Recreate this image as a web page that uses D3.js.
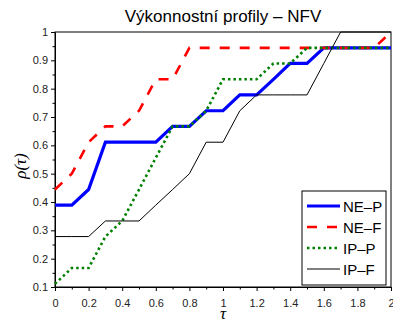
<!DOCTYPE html>
<html>
<head>
<meta charset="utf-8">
<script src="https://cdn.jsdelivr.net/npm/d3@7"></script>
<style>
  body { margin: 0; background: #fff; }
  text { font-family: "Liberation Sans", Arial, sans-serif; }
</style>
</head>
<body>
<div id="chart"></div>
<script>
// performance profiles, tau on x, share of problems on y
const tau = [0, 0.1, 0.2, 0.3, 0.4, 0.5, 0.6, 0.7, 0.8, 0.9, 1.0,
             1.1, 1.2, 1.3, 1.4, 1.5, 1.6, 1.7, 1.8, 1.9, 2.0];
const neP = [0.389, 0.389, 0.444, 0.611, 0.611, 0.611, 0.611, 0.667, 0.667, 0.722, 0.722,
             0.778, 0.778, 0.833, 0.889, 0.889, 0.944, 0.944, 0.944, 0.944, 0.944];
const neF = [0.444, 0.5, 0.611, 0.667, 0.667, 0.722, 0.833, 0.833, 0.944, 0.944, 0.944,
             0.944, 0.944, 0.944, 0.944, 0.944, 0.944, 0.944, 0.944, 0.944, 1.0];
const ipP = [0.111, 0.167, 0.167, 0.278, 0.333, 0.444, 0.556, 0.667, 0.667, 0.722, 0.833,
             0.833, 0.833, 0.889, 0.889, 0.944, 0.944, 0.944, 0.944, 0.944, 0.944];
const ipF = [0.278, 0.278, 0.278, 0.333, 0.333, 0.333, 0.389, 0.444, 0.5, 0.611, 0.611,
             0.722, 0.778, 0.778, 0.778, 0.778, 0.889, 1.0, 1.0, 1.0, 1.0];
const seriesNames = ['NE\u2013P', 'NE\u2013F', 'IP\u2013P', 'IP\u2013F'];
const xTicks = [0, 0.2, 0.4, 0.6, 0.8, 1, 1.2, 1.4, 1.6, 1.8, 2];
const yTicks = [0.1, 0.2, 0.3, 0.4, 0.5, 0.6, 0.7, 0.8, 0.9, 1];

const W = 393, H = 322;
const margin = {top: 32, right: 2, bottom: 35, left: 55};
const width = W - margin.left - margin.right;
const height = H - margin.top - margin.bottom;

const styles = [
  {color: '#0000ff', w: 3.2, dash: null},
  {color: '#ff0000', w: 2.6, dash: '10,10'},
  {color: '#008000', w: 2.6, dash: '2.5,3'},
  {color: '#000000', w: 1, dash: null}
];
const series = [neP, neF, ipP, ipF];

const svg = d3.select('#chart').append('svg')
    .attr('width', W)
    .attr('height', H);

const g = svg.append('g')
    .attr('transform', 'translate(' + margin.left + ',' + margin.top + ')');

const x = d3.scaleLinear().domain([0, 2]).range([0, width]);
const y = d3.scaleLinear().domain([0.1, 1]).range([height, 0]);

// minor ticks first, major ticks with labels on top
g.append('g')
    .attr('transform', 'translate(0,' + height + ')')
    .call(d3.axisBottom(x).tickValues(d3.range(0.1, 2, 0.2)).tickSize(2.5).tickFormat(''))
    .call(a => a.select('.domain').remove());
g.append('g')
    .call(d3.axisLeft(y).tickValues(d3.range(0.15, 1, 0.1)).tickSize(2.5).tickFormat(''))
    .call(a => a.select('.domain').remove());

const xAxis = g.append('g')
    .attr('transform', 'translate(0,' + height + ')')
    .call(d3.axisBottom(x).tickValues(xTicks).tickSize(4).tickSizeOuter(0).tickPadding(8).tickFormat(d3.format('~g')));
const yAxis = g.append('g')
    .call(d3.axisLeft(y).tickValues(yTicks).tickSize(4).tickSizeOuter(0).tickPadding(3).tickFormat(d3.format('~g')));

[xAxis, yAxis].forEach(a => {
  a.selectAll('text').attr('font-size', 11).attr('fill', '#222')
      .style('font-family', '"Liberation Sans", Arial, sans-serif');
});

// box frame
g.append('rect')
    .attr('width', width)
    .attr('height', height)
    .attr('fill', 'none')
    .attr('stroke', '#000')
    .attr('stroke-width', 1);

const line = d3.line()
    .x((d, i) => x(tau[i]))
    .y(d => y(d));

series.forEach((s, i) => {
  g.append('path')
      .datum(s)
      .attr('d', line)
      .attr('fill', 'none')
      .attr('stroke', styles[i].color)
      .attr('stroke-width', styles[i].w)
      .attr('stroke-dasharray', styles[i].dash)
      .attr('stroke-linejoin', 'miter');
});

// legend
const legend = g.append('g')
    .attr('transform', 'translate(' + (302 - margin.left) + ',' + (191 - margin.top) + ')');
legend.append('rect')
    .attr('width', 84)
    .attr('height', 94)
    .attr('fill', '#fff')
    .attr('stroke', '#000')
    .attr('stroke-width', 1);
seriesNames.forEach((name, i) => {
  const ly = 15 + i * 21;
  legend.append('line')
      .attr('x1', 5).attr('x2', 38)
      .attr('y1', ly).attr('y2', ly)
      .attr('stroke', styles[i].color)
      .attr('stroke-width', styles[i].w)
      .attr('stroke-dasharray', styles[i].dash);
  legend.append('text')
      .attr('x', 41)
      .attr('y', ly + 5.5)
      .attr('font-size', 15)
      .text(name);
});

// titles
svg.append('text')
    .attr('x', margin.left + width / 2)
    .attr('y', 22)
    .attr('text-anchor', 'middle')
    .attr('font-size', 17)
    .text('Výkonnostní profily \u2013 NFV');

svg.append('text')
    .attr('x', margin.left + width / 2)
    .attr('y', 319)
    .attr('text-anchor', 'middle')
    .attr('font-size', 17)
    .style('font-family', '"Liberation Serif", "DejaVu Serif", serif')
    .style('font-style', 'italic')
    .text('τ');

svg.append('text')
    .attr('transform', 'translate(26,166) rotate(-90)')
    .attr('text-anchor', 'middle')
    .attr('font-size', 17)
    .style('font-family', '"Liberation Serif", "DejaVu Serif", serif')
    .style('font-style', 'italic')
    .text('ρ(τ)');
</script>
</body>
</html>
